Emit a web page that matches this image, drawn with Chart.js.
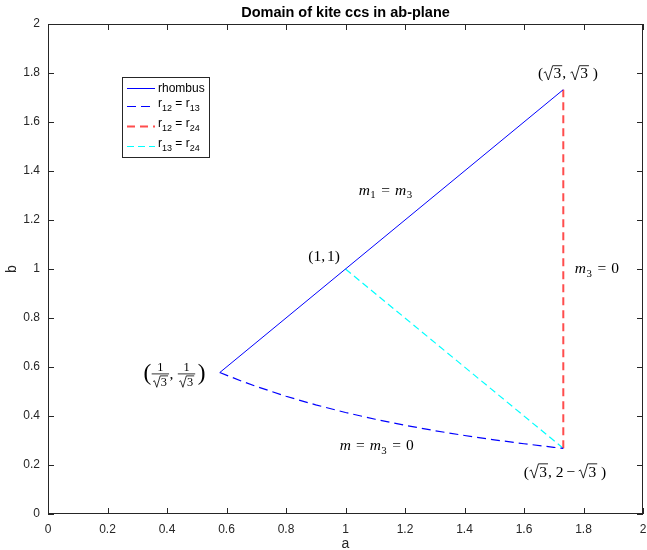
<!DOCTYPE html>
<html>
<head>
<meta charset="utf-8">
<script src="https://cdn.jsdelivr.net/npm/chart.js@4.4.0/dist/chart.umd.min.js"></script>
<style>
html,body{margin:0;padding:0;background:#fff;}
#wrap{width:647px;height:550px;position:relative;}
</style>
</head>
<body>
<div id="wrap"><canvas id="c" width="647" height="550"></canvas></div>
<script>
// ---- data ----
const rhombusA = [0.5774, 1.7321];
const rhombusB = [0.5774, 1.7321];
const r12r13A = [0.5774, 0.65, 0.7, 0.8, 0.9, 1.0, 1.1, 1.2, 1.3, 1.4, 1.5, 1.6, 1.7, 1.7321];
const r12r13B = [0.5774, 0.5427, 0.5207, 0.4806, 0.4454, 0.4142, 0.3866, 0.3620, 0.3401, 0.3205, 0.3028, 0.2868, 0.2723, 0.2679];
const r12r24A = [1.7321, 1.7321];
const r12r24B = [0.2679, 1.7321];
const r13r24A = [1.0, 1.7321];
const r13r24B = [1.0, 0.2679];
const xTicks = [0, 0.2, 0.4, 0.6, 0.8, 1, 1.2, 1.4, 1.6, 1.8, 2];
const xTickLabels = ['0','0.2','0.4','0.6','0.8','1','1.2','1.4','1.6','1.8','2'];
const yTicks = [0, 0.2, 0.4, 0.6, 0.8, 1, 1.2, 1.4, 1.6, 1.8, 2];
const yTickLabels = ['0','0.2','0.4','0.6','0.8','1','1.2','1.4','1.6','1.8','2'];
const seriesNames = ['rhombus', 'r12=r13', 'r12=r24', 'r13=r24'];
const titleText = 'Domain of kite ccs in ab-plane';

function pts(A, B){ return A.map((a,i)=>({x:a, y:B[i]})); }

const AX = '#262626';
const TXT = '#262626';
const SANS = '"Liberation Sans", Arial, sans-serif';
const SERIF = '"Liberation Serif", "DejaVu Serif", serif';

// ---- math label helpers ----
const FS = 15.5;
function fnt(it, size){ return (it ? 'italic ' : '') + size + 'px ' + SERIF; }
function meas(ctx, p, size){
  size = size || FS;
  switch(p[0]){
    case 't': ctx.font = fnt(p[2], size); return ctx.measureText(p[1]).width;
    case 'sub': ctx.font = fnt(false, size*0.7); return ctx.measureText(p[1]).width + 1;
    case 'sp': return p[1];
    case 'sqrt': ctx.font = fnt(false, size); return size*0.66 + ctx.measureText(p[1]).width + 1;
    case 'frac': {
      const s = size*0.8;
      ctx.font = fnt(false, s);
      const nw = ctx.measureText(p[1]).width;
      const dw = meas(ctx, ['sqrt', p[2]], s);
      return Math.max(nw, dw) + 3;
    }
    case 'big': ctx.font = fnt(false, size*1.5); return ctx.measureText(p[1]).width;
  }
  return 0;
}
function drawPart(ctx, p, x, y, size){
  size = size || FS;
  switch(p[0]){
    case 't': ctx.font = fnt(p[2], size); ctx.fillText(p[1], x, y); break;
    case 'sub': ctx.font = fnt(false, size*0.7); ctx.fillText(p[1], x + 0.5, y + size*0.22); break;
    case 'sqrt': {
      ctx.font = fnt(false, size);
      const w = ctx.measureText(p[1]).width;
      const rw = size*0.66;
      const top = y - size*0.82;
      ctx.save();
      ctx.lineWidth = Math.max(0.8, size*0.055);
      ctx.strokeStyle = ctx.fillStyle;
      ctx.beginPath();
      ctx.moveTo(x + rw*0.05, y - size*0.36);
      ctx.lineTo(x + rw*0.22, y - size*0.43);
      ctx.lineTo(x + rw*0.50, y + size*0.10);
      ctx.lineTo(x + rw*0.92, top);
      ctx.lineTo(x + rw + w + 1, top);
      ctx.stroke();
      ctx.restore();
      ctx.fillText(p[1], x + rw, y);
      break;
    }
    case 'frac': {
      const s = size*0.8;
      const W = meas(ctx, p, size);
      ctx.font = fnt(false, s);
      const nw = ctx.measureText(p[1]).width;
      const dw = meas(ctx, ['sqrt', p[2]], s);
      const bar = y - size*0.30;
      ctx.fillText(p[1], x + (W - nw)/2, bar - 2.5);
      ctx.save();
      ctx.lineWidth = 0.8; ctx.strokeStyle = ctx.fillStyle;
      ctx.beginPath(); ctx.moveTo(x + 0.5, bar); ctx.lineTo(x + W - 0.5, bar); ctx.stroke();
      ctx.restore();
      drawPart(ctx, ['sqrt', p[2]], x + (W - dw)/2, bar + s*0.98, s);
      break;
    }
    case 'big': ctx.font = fnt(false, size*1.5); ctx.fillText(p[1], x, y + size*0.12); break;
  }
}
function drawMath(ctx, parts, cx, cy){
  let W = 0;
  parts.forEach(p => W += meas(ctx, p));
  let x = cx - W/2;
  const y = cy + FS*0.35;
  ctx.textAlign = 'left';
  ctx.textBaseline = 'alphabetic';
  ctx.fillStyle = '#000';
  parts.forEach(p => { drawPart(ctx, p, x, y); x += meas(ctx, p); });
}

const EQ = [['sp',5],['t','='],['sp',5]];
// annotation labels: [a, b, parts]
const labels = [
  [1.748, 1.80, [['t','('],['sqrt','3'],['t',', '],['sqrt','3'],['t',' )']]],
  [1.135, 1.325, [['t','m',true],['sub','1'],...EQ,['t','m',true],['sub','3']]],
  [0.928, 1.053, [['t','(1,'],['sp',2],['t','1)']]],
  [1.845, 1.004, [['t','m',true],['sub','3'],...EQ,['t','0']]],
  [0.425, 0.575, [['big','('],['frac','1','3'],['t',', '],['frac','1','3'],['sp',2],['big',')']]],
  [1.105, 0.282, [['t','m',true],...EQ,['t','m',true],['sub','3'],...EQ,['t','0']]],
  [1.738, 0.175, [['t','('],['sqrt','3'],['t',', 2'],['sp',3],['t','−'],['sp',3],['sqrt','3'],['t',' )']]]
];

const decor = {
  id: 'decor',
  afterDraw(chart){
    const ctx = chart.ctx;
    const ca = chart.chartArea;
    const xs = chart.scales.x, ys = chart.scales.y;
    ctx.save();
    // box
    ctx.strokeStyle = AX; ctx.lineWidth = 1;
    ctx.strokeRect(Math.round(ca.left)+0.5, Math.round(ca.top)+0.5, Math.round(ca.right-ca.left)-1, Math.round(ca.bottom-ca.top)-1);
    // inward ticks
    ctx.beginPath();
    xTicks.forEach(v => {
      const px = Math.round(xs.getPixelForValue(v)) + 0.5;
      ctx.moveTo(px, ca.bottom); ctx.lineTo(px, ca.bottom - 6);
      ctx.moveTo(px, ca.top); ctx.lineTo(px, ca.top + 6);
    });
    yTicks.forEach(v => {
      const py = Math.round(ys.getPixelForValue(v)) + 0.5;
      ctx.moveTo(ca.left, py); ctx.lineTo(ca.left + 6, py);
      ctx.moveTo(ca.right, py); ctx.lineTo(ca.right - 6, py);
    });
    ctx.stroke();
    // title
    ctx.fillStyle = '#000';
    ctx.font = 'bold 14.5px ' + SANS;
    ctx.textAlign = 'center'; ctx.textBaseline = 'middle';
    ctx.fillText(titleText, (ca.left + ca.right)/2, 13);
    // axis labels
    ctx.fillStyle = TXT;
    ctx.font = '14px ' + SANS;
    ctx.fillText('a', (ca.left + ca.right)/2, 544);
    ctx.save();
    ctx.translate(12, (ca.top + ca.bottom)/2);
    ctx.rotate(-Math.PI/2);
    ctx.fillText('b', 0, 0);
    ctx.restore();
    // math annotations
    labels.forEach(l => drawMath(ctx, l[2], xs.getPixelForValue(l[0]), ys.getPixelForValue(l[1])));
    // legend
    const lx = 122.5, ly = 77.5, lw = 87, lh = 80;
    ctx.fillStyle = '#fff';
    ctx.fillRect(lx, ly, lw, lh);
    ctx.strokeStyle = AX; ctx.lineWidth = 1;
    ctx.strokeRect(lx, ly, lw, lh);
    const ds = chart.data.datasets;
    const rows = [88.5, 106.5, 126.5, 146.5];
    ds.forEach((d, i) => {
      ctx.save();
      ctx.strokeStyle = d.borderColor; ctx.lineWidth = d.borderWidth;
      ctx.setLineDash(d.borderDash || []);
      ctx.beginPath(); ctx.moveTo(127, rows[i]); ctx.lineTo(155, rows[i]); ctx.stroke();
      ctx.restore();
    });
    ctx.fillStyle = '#000';
    ctx.textAlign = 'left'; ctx.textBaseline = 'alphabetic';
    const big = '12px ' + SANS, small = '9px ' + SANS;
    ctx.font = big; ctx.fillText('rhombus', 158, 92);
    const subRow = (y, s1, s2) => {
      let x = 158;
      ctx.font = big; ctx.fillText('r', x, y); x += ctx.measureText('r').width;
      ctx.font = small; ctx.fillText(s1, x, y + 4); x += ctx.measureText(s1).width;
      ctx.font = big; ctx.fillText(' = r', x, y); x += ctx.measureText(' = r').width;
      ctx.font = small; ctx.fillText(s2, x, y + 4);
    };
    subRow(107, '12', '13');
    subRow(127, '12', '24');
    subRow(147, '13', '24');
    ctx.restore();
  }
};

new Chart(document.getElementById('c'), {
  type: 'scatter',
  data: {
    datasets: [
      { label: seriesNames[0], data: pts(rhombusA, rhombusB), borderColor: '#0000ff', borderWidth: 1, showLine: true, pointRadius: 0, fill: false },
      { label: seriesNames[1], data: pts(r12r13A, r12r13B), borderColor: '#0000ff', borderWidth: 1.2, borderDash: [9, 5], showLine: true, pointRadius: 0, fill: false, tension: 0 },
      { label: seriesNames[2], data: pts(r12r24A, r12r24B), borderColor: '#ff4d4d', borderWidth: 2, borderDash: [8, 5], showLine: true, pointRadius: 0, fill: false },
      { label: seriesNames[3], data: pts(r13r24A, r13r24B), borderColor: '#00ffff', borderWidth: 1.2, borderDash: [7, 4], showLine: true, pointRadius: 0, fill: false }
    ]
  },
  options: {
    responsive: false,
    animation: false,
    layout: { padding: { left: 0, right: 4, top: 24, bottom: 0 } },
    plugins: { legend: { display: false }, title: { display: false }, tooltip: { enabled: false } },
    scales: {
      x: {
        type: 'linear', min: 0, max: 2,
        grid: { display: false, drawTicks: false },
        border: { display: false },
        afterBuildTicks: s => { s.ticks = xTicks.map(v => ({ value: v })); },
        afterFit: s => { s.height = 36; s.paddingLeft = 0; s.paddingRight = 0; },
        ticks: { padding: 8, color: TXT, font: { family: SANS, size: 12 }, maxRotation: 0, autoSkip: false,
          callback: (v) => xTickLabels[xTicks.indexOf(v)] }
      },
      y: {
        type: 'linear', min: 0, max: 2,
        grid: { display: false, drawTicks: false },
        border: { display: false },
        afterBuildTicks: s => { s.ticks = yTicks.map(v => ({ value: v })); },
        afterFit: s => { s.width = 48; s.paddingTop = 0; s.paddingBottom = 0; },
        ticks: { padding: 8, color: TXT, font: { family: SANS, size: 12 }, autoSkip: false,
          callback: (v) => yTickLabels[yTicks.indexOf(v)] }
      }
    }
  },
  plugins: [decor]
});
</script>
</body>
</html>
